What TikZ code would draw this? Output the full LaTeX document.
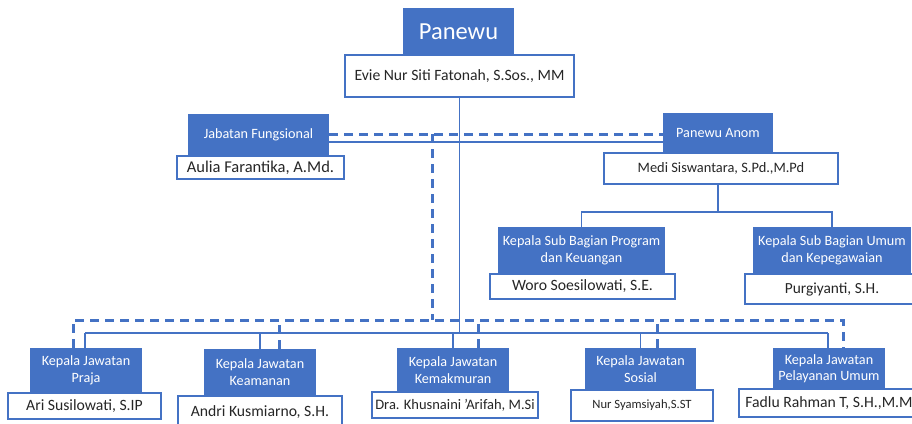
\documentclass[tikz,border=0pt]{standalone}
\usepackage{fontspec}
\setmainfont{Carlito}
\usetikzlibrary{backgrounds}
\definecolor{ob}{HTML}{4472C4}
\definecolor{txt}{HTML}{262626}
\begin{document}
\begin{tikzpicture}[x=1pt,y=-1pt,
  tbox/.style={fill=ob, draw=none, text=white, align=center, inner sep=0pt,
    font=\fontsize{14.2}{16.5}\selectfont},
  nbox/.style={fill=white, draw=ob, line width=1.5pt, text=txt, inner sep=0pt,
    align=center, font=\fontsize{15.7}{18}\selectfont},
  conn/.style={draw=ob, line width=1.6pt},
  dconn/.style={draw=ob, line width=3pt, dash pattern=on 9pt off 6pt}]
\useasboundingbox (0,0) rectangle (912,423);
% name boxes (white)
\node[nbox, minimum width=229, minimum height=42] (panewuN) at (459.5,76) {Evie Nur Siti Fatonah, S.Sos., MM};
\node[nbox, minimum width=167, minimum height=23, font=\fontsize{16.5}{18}\selectfont] (jfN) at (260.5,167.5) {Aulia Farantika, A.Md.};
\node[nbox, minimum width=234, minimum height=31, font=\fontsize{14.4}{17}\selectfont] (anomN) at (721,168.5) {Medi Siswantara, S.Pd.,M.Pd};
\node[nbox, minimum width=185, minimum height=25] (progN) at (582.5,286.5) {Woro Soesilowati, S.E.};
\node[nbox, minimum width=174, minimum height=30, font=\fontsize{15.4}{18}\selectfont] (umumN) at (832,289) {Purgiyanti, S.H.};
\node[nbox, minimum width=153, minimum height=26] (prajaN) at (84.5,406) {Ari Susilowati, S.IP};
\node[nbox, minimum width=164, minimum height=33, anchor=north] (keamN) at (260,395) {\raisebox{-3pt}{Andri Kusmiarno, S.H.}};
\node[nbox, minimum width=166, minimum height=26, font=\fontsize{14.5}{17}\selectfont] (kemakN) at (455,405) {Dra. Khusnaini 'Arifah, M.Si};
\node[nbox, minimum width=142, minimum height=31, font=\fontsize{12.6}{15}\selectfont] (sosN) at (642,405.5) {Nur Syamsiyah,S.ST};
\node[nbox, minimum width=180, minimum height=28] (pelN) at (829,403) {Fadlu Rahman T, S.H.,M.M};
% title boxes (blue)
\node[tbox, minimum width=111, minimum height=47, font=\fontsize{24.5}{28}\selectfont] (panewuT) at (458.5,31.5) {Panewu};
\node[tbox, minimum width=141, minimum height=42] (jfT) at (258.5,135) {Jabatan Fungsional};
\node[tbox, minimum width=110, minimum height=40] (anomT) at (718,133) {Panewu Anom};
\node[tbox, minimum width=167, minimum height=47] (progT) at (581.5,250.5) {Kepala Sub Bagian Program\\dan Keuangan};
\node[tbox, minimum width=158, minimum height=47] (umumT) at (832,250.5) {Kepala Sub Bagian Umum\\dan Kepegawaian};
\node[tbox, minimum width=112, minimum height=45] (prajaT) at (86,370.5) {Kepala Jawatan\\Praja};
\node[tbox, minimum width=112, minimum height=46] (keamT) at (260,372) {Kepala Jawatan\\Keamanan};
\node[tbox, minimum width=112, minimum height=44] (kemakT) at (453,370) {Kepala Jawatan\\Kemakmuran};
\node[tbox, minimum width=111, minimum height=42] (sosT) at (640.5,369) {Kepala Jawatan\\Sosial};
\node[tbox, minimum width=112, minimum height=41] (pelT) at (829,368.5) {Kepala Jawatan\\Pelayanan Umum};
% helper coordinates
\coordinate (busS) at (0,333);
\coordinate (busD) at (0,320);
\coordinate (sY) at (0,142);
\coordinate (dY) at (432,134);
\coordinate (subBus) at (0,212);
\begin{scope}[on background layer]
  % solid lines
  \draw[conn] (panewuN.south) -- (panewuN.south |- busS);
  \draw[conn] (jfT.east |- sY) -- (anomT.west |- sY);
  \draw[conn] ([xshift=-1pt]prajaT.north |- busS) -- ([xshift=-1pt]pelT.north |- busS);
  \draw[conn] ([xshift=-1pt]prajaT.north) -- ([xshift=-1pt]prajaT.north |- busS);
  \foreach \n in {keamT,kemakT,sosT} \draw[conn] (\n.north) -- (\n.north |- busS);
  \draw[conn] ([xshift=-1pt]pelT.north) -- ([xshift=-1pt]pelT.north |- busS);
  \draw[conn] (anomT.south |- anomN.south) -- (anomT.south |- subBus);
  \draw[conn] (progT.north) -- (progT.north |- subBus) -- (umumT.north |- subBus) -- (umumT.north);
  % dashed lines
  \draw[dconn] (jfT.east |- dY) -- (anomT.west |- dY);
  \draw[dconn] (dY) -- (dY |- busD);
  \draw[dconn] ([xshift=-13pt]prajaT.north) -- ([xshift=-13pt]prajaT.north |- busD)
     -- ([xshift=14pt]pelT.north |- busD) -- ([xshift=14pt]pelT.north);
  \draw[dconn] ([xshift=19pt]keamT.north) -- ([xshift=19pt]keamT.north |- busD);
  \draw[dconn] ([xshift=25pt]kemakT.north) -- ([xshift=25pt]kemakT.north |- busD);
  \draw[dconn] ([xshift=17pt]sosT.north) -- ([xshift=17pt]sosT.north |- busD);
\end{scope}
\end{tikzpicture}
\end{document}
